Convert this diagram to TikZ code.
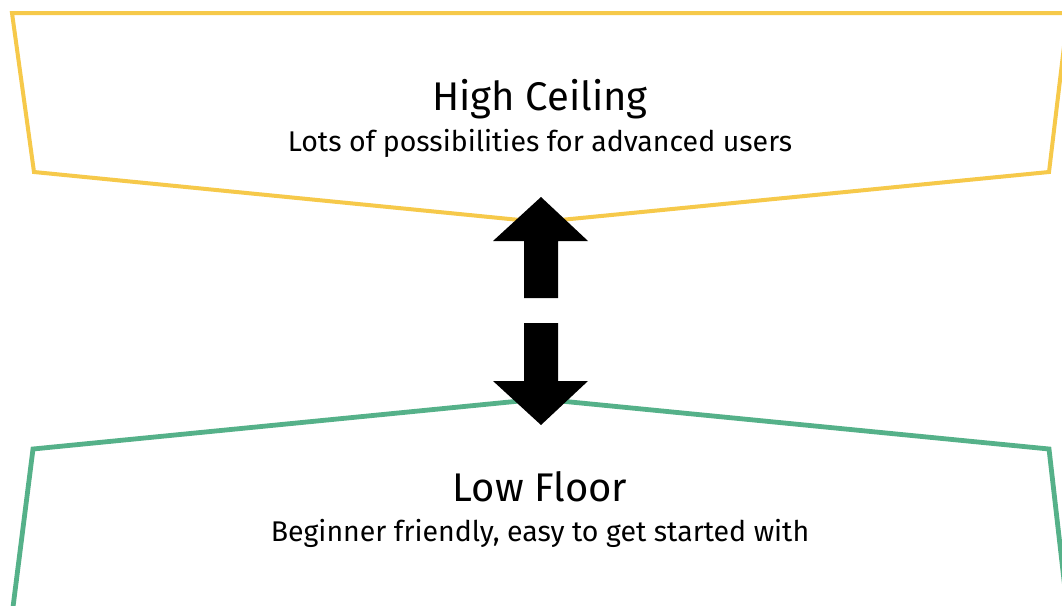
\documentclass[tikz,border=0pt]{standalone}
\usepackage{fontspec}
\setmainfont{Fira Sans}
\definecolor{ceilyellow}{HTML}{F6C94A}
\definecolor{floorgreen}{HTML}{55B189}
\begin{document}
\begin{tikzpicture}[x=1pt,y=-1pt,
  band/.style={line width=4pt, line join=miter},
  title/.style={anchor=base, inner sep=0pt, font=\fontsize{40}{44}\selectfont},
  subtitle/.style={anchor=base, inner sep=0pt, font=\fontsize{28.5}{32}\selectfont},
  bigarrow/.style={fill=black, draw=none}]
\clip (0,0) rectangle (1062,605);
\fill[white] (0,0) rectangle (1062,605);

% upper band: high ceiling
\draw[band, ceilyellow] (12,13) -- (34,172) -- (540,222) -- (1049,172) -- (1068,13) -- cycle;
% lower band: low floor
\draw[band, floorgreen, line width=4.8pt] (12,615) -- (33,449) -- (540,399) -- (1049,449) -- (1068,615);

% double arrow between the two bands
\fill[bigarrow] (541,197) -- (588,241) -- (558,241) -- (558,298) -- (524,298) -- (524,241) -- (493,241) -- cycle;
\fill[bigarrow] (541,425) -- (588,381) -- (558,381) -- (558,323) -- (524,323) -- (524,381) -- (493,381) -- cycle;

\node[title] (ceil) at (540,110) {High Ceiling};
\node[subtitle] (ceilsub) at (540,151) {Lots of possibilities for advanced users};
\node[title] (floor) at (540,501) {Low Floor};
\node[subtitle] (floorsub) at (540,541) {Beginner friendly, easy to get started with};
\end{tikzpicture}
\end{document}
